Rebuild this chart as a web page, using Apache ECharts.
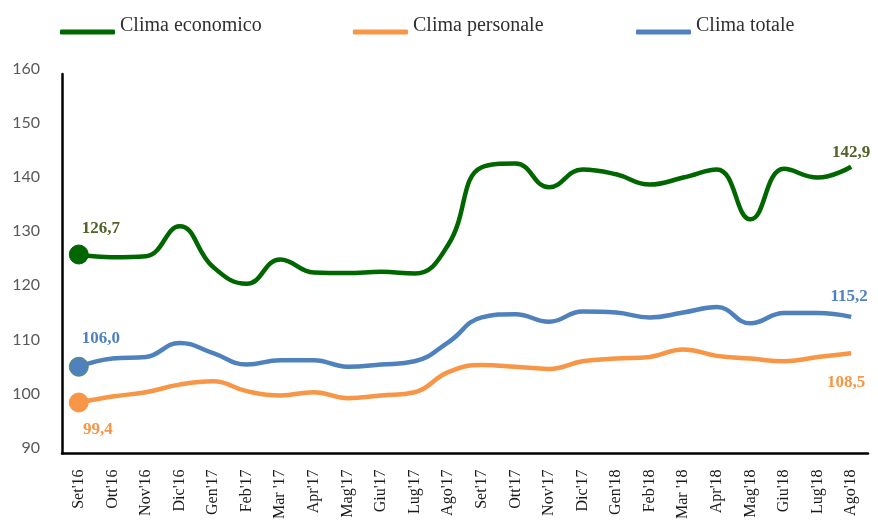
<!DOCTYPE html>
<html>
<head>
<meta charset="utf-8">
<script src="https://cdn.jsdelivr.net/npm/echarts@6/dist/echarts.min.js"></script>
<style>
  html, body { margin: 0; padding: 0; background: #ffffff; }
  #chart { width: 878px; height: 522px; }
</style>
</head>
<body>
<div id="chart"></div>
<script>
// Monthly climate indices, Sep 2016 – Aug 2018
const months = ["Set'16", "Ott'16", "Nov'16", "Dic'16", "Gen'17", "Feb'17", "Mar '17", "Apr'17",
  "Mag'17", "Giu'17", "Lug'17", "Ago'17", "Set'17", "Ott'17", "Nov'17", "Dic'17",
  "Gen'18", "Feb'18", "Mar '18", "Apr'18", "Mag'18", "Giu'18", "Lug'18", "Ago'18"];

const climaEconomico = [126.7, 126.2, 126.4, 131.9, 124.4, 121.3, 125.8, 123.4,
  123.3, 123.5, 123.2, 128.5, 142.8, 143.5, 139.1, 142.4,
  141.5, 139.6, 140.9, 142.4, 133.2, 142.5, 140.9, 142.9];

const climaPersonale = [99.4, 100.5, 101.3, 102.7, 103.3, 101.5, 100.7, 101.3,
  100.2, 100.7, 101.3, 105.0, 106.3, 106.0, 105.6, 107.0,
  107.5, 107.8, 109.2, 108.0, 107.5, 107.0, 107.8, 108.5];

const climaTotale = [106.0, 107.5, 107.8, 110.4, 108.5, 106.4, 107.2, 107.2,
  106.0, 106.4, 107.0, 110.5, 115.1, 115.7, 114.3, 116.2,
  116.0, 115.1, 116.0, 117.0, 114.0, 115.9, 115.9, 115.2];

const yTicks = { min: 90, max: 160, step: 10 };

const GREEN = '#006600', ORANGE = '#f79646', BLUE = '#4f81bd';
const SERIF = '"Liberation Serif", "DejaVu Serif", serif';

function fmt(v) { return v.toFixed(1).replace('.', ','); }

// First point gets a large dot and a label; last point gets a label only
function points(values, color, labelColor) {
  const last = values.length - 1;
  return values.map((v, i) => {
    if (i === 0) {
      return {
        value: v,
        symbol: 'circle', symbolSize: 19,
        itemStyle: { color: color, borderColor: color === BLUE ? '#5f8f46' : color, borderWidth: 1 },
        label: { show: true, formatter: fmt(v), color: labelColor, position: 'inside' }
      };
    }
    if (i === last) {
      return {
        value: v,
        symbol: 'circle', symbolSize: 0,
        label: { show: true, formatter: fmt(v), color: labelColor, position: 'inside' }
      };
    }
    return { value: v, symbol: 'none' };
  });
}

function lineSeries(name, values, color, labelColor, firstShift, lastShift) {
  const last = values.length - 1;
  return {
    name: name,
    type: 'line',
    smooth: 0.45,
    showSymbol: true,
    symbol: 'none',
    lineStyle: { color: color, width: 4.5 },
    itemStyle: { color: color },
    label: { fontFamily: SERIF, fontWeight: 'bold', fontSize: 17 },
    // move the first/last value labels off the line
    labelLayout: p => {
      const s = p.dataIndex === last ? lastShift : firstShift;
      return { dx: s[0], dy: s[1], hideOverlap: false };
    },
    emphasis: { disabled: true },
    data: points(values, color, labelColor),
    z: 3
  };
}

function legendAt(left, name) {
  return {
    left: left, top: 11,
    data: [name],
    icon: 'roundRect',
    itemWidth: 55, itemHeight: 5,
    itemGap: 0,
    formatter: n => '{t|' + n + '}',
    textStyle: {
      rich: { t: { fontFamily: SERIF, fontSize: 20, color: '#303030', padding: [0, 0, 12, 0] } }
    },
    selectedMode: false
  };
}

const chart = echarts.init(document.getElementById('chart'), null, { renderer: 'canvas' });

chart.setOption({
  animation: false,
  backgroundColor: '#ffffff',
  legend: [
    legendAt(55, 'Clima economico'),
    legendAt(348, 'Clima personale'),
    legendAt(631, 'Clima totale')
  ],
  grid: { left: 62, right: 10, top: 74, bottom: 67, containLabel: false },
  xAxis: {
    type: 'category',
    data: months,
    boundaryGap: true,
    axisLine: { show: true, lineStyle: { color: '#000000', width: 2.5 } },
    axisTick: { show: false },
    axisLabel: {
      rotate: 90, interval: 0, margin: 16,
      fontFamily: SERIF, fontSize: 16, color: '#1a1a1a'
    }
  },
  yAxis: {
    type: 'value',
    min: yTicks.min, max: yTicks.max, interval: yTicks.step,
    axisLine: { show: true, lineStyle: { color: '#000000', width: 2.5 } },
    axisTick: { show: false },
    splitLine: { show: false },
    axisLabel: {
      margin: 22,
      formatter: '{v|{value}}',
      rich: { v: { fontFamily: 'Lato, "Open Sans", sans-serif', fontSize: 16, color: '#595959', padding: [0, 0, 11, 0] } }
    }
  },
  series: [
    lineSeries('Clima economico', climaEconomico, GREEN, '#4f6228', [22, -26], [0, -14]),
    lineSeries('Clima personale', climaPersonale, ORANGE, ORANGE, [19, 27], [-5, 29]),
    lineSeries('Clima totale', climaTotale, BLUE, BLUE, [22, -28], [-2, -20])
  ]
});
</script>
</body>
</html>
